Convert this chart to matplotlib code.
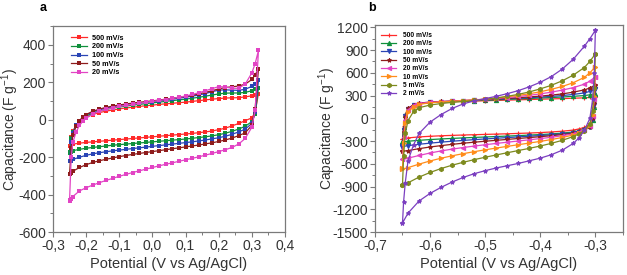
import numpy as np
import matplotlib
matplotlib.use("Agg")
import matplotlib.pyplot as plt
from matplotlib.ticker import MultipleLocator, FuncFormatter

plt.rcParams['font.family'] = ['Liberation Sans', 'DejaVu Sans']
plt.rcParams['mathtext.default'] = 'regular'

# ---- panel a : CV curves (potential grid + capacitance per scan rate)
xa_up = [-0.25, -0.245, -0.24, -0.23, -0.22, -0.21, -0.2, -0.18, -0.16, -0.14, -0.12, -0.1,
         -0.08, -0.06, -0.04, -0.02, 0.0, 0.02, 0.04, 0.06, 0.08, 0.1, 0.12, 0.14, 0.16,
         0.18, 0.2, 0.22, 0.24, 0.26, 0.28, 0.3, 0.31, 0.32]
xa_dn = [0.32, 0.31, 0.3, 0.28, 0.26, 0.24, 0.22, 0.2, 0.18, 0.16, 0.14, 0.12, 0.1, 0.08,
         0.06, 0.04, 0.02, 0.0, -0.02, -0.04, -0.06, -0.08, -0.1, -0.12, -0.14, -0.16,
         -0.18, -0.2, -0.22, -0.24, -0.245, -0.25]
labels_a = ['500 mV/s', '200 mV/s', '100 mV/s', '50 mV/s', '20 mV/s']
colors_a = ['#ff2a2a', '#10903c', '#2a45b5', '#8e1c1c', '#e244c4']

a500_up = [-140, -90, -60, -30, -10, 5, 15, 28, 38, 46, 52, 58, 63, 67, 71, 75, 78, 82, 85,
           88, 91, 94, 98, 102, 106, 110, 113, 116, 117, 118, 122, 128, 133, 140]
a500_dn = [140, 40, 10, -5, -20, -33, -45, -53, -60, -65, -69, -73, -76, -79, -82, -85, -88,
           -91, -94, -97, -100, -103, -106, -109, -112, -115, -118, -121, -125, -130, -135, -140]
a200_up = [-170, -100, -65, -30, -8, 8, 20, 35, 46, 55, 62, 68, 73, 78, 82, 86, 90, 94, 98,
           102, 106, 110, 115, 120, 126, 132, 138, 142, 143, 143, 146, 155, 162, 170]
a200_dn = [170, 30, -10, -35, -50, -62, -72, -80, -86, -91, -95, -99, -103, -106, -109, -112,
           -115, -118, -121, -124, -127, -130, -133, -136, -140, -144, -148, -152, -158, -165,
           -170, -175]
a100_up = [-220, -120, -70, -30, -5, 12, 25, 42, 53, 62, 69, 75, 80, 85, 89, 93, 97, 101, 105,
           110, 115, 120, 126, 132, 140, 150, 158, 160, 158, 157, 163, 178, 192, 210]
a100_dn = [210, 40, -20, -50, -65, -78, -88, -96, -102, -108, -113, -118, -122, -126, -130,
           -134, -138, -142, -146, -150, -154, -158, -162, -166, -171, -176, -182, -190, -200,
           -212, -218, -222]
a50_up = [-290, -150, -80, -35, -5, 15, 28, 45, 57, 66, 73, 79, 84, 89, 93, 97, 101, 105, 110,
          115, 120, 125, 131, 138, 146, 155, 165, 172, 176, 180, 190, 215, 240, 270]
a50_dn = [270, 60, -30, -70, -85, -98, -108, -116, -123, -129, -135, -140, -145, -150, -155,
          -160, -165, -170, -175, -180, -185, -191, -197, -204, -211, -219, -228, -240, -255,
          -275, -283, -290]
a20_up = [-430, -200, -120, -65, -30, -8, 8, 30, 45, 56, 64, 71, 77, 83, 88, 93, 98, 103, 108,
          114, 120, 127, 135, 144, 155, 166, 177, 175, 168, 168, 190, 250, 300, 370]
a20_dn = [370, 50, -40, -100, -130, -148, -160, -170, -180, -189, -198, -206, -214, -222, -230,
          -238, -246, -255, -264, -273, -282, -292, -302, -313, -324, -336, -349, -363, -380,
          -410, -425, -432]
ups_a = [a500_up, a200_up, a100_up, a50_up, a20_up]
dns_a = [a500_dn, a200_dn, a100_dn, a50_dn, a20_dn]

# ---- panel b
xb_up = [-0.65, -0.648, -0.645, -0.64, -0.63, -0.62, -0.6, -0.58, -0.56, -0.54, -0.52, -0.5,
         -0.48, -0.46, -0.44, -0.42, -0.4, -0.38, -0.36, -0.34, -0.32, -0.31, -0.3]
xb_dn = [-0.3, -0.302, -0.305, -0.31, -0.32, -0.33, -0.34, -0.36, -0.38, -0.4, -0.42, -0.44,
         -0.46, -0.48, -0.5, -0.52, -0.54, -0.56, -0.58, -0.6, -0.62, -0.64, -0.65]
labels_b = ['500 mV/s', '200 mV/s', '100 mV/s', '50 mV/s', '20 mV/s', '10 mV/s', '5 mV/s', '2 mV/s']
colors_b = ['#ff2a2a', '#10903c', '#2a45b5', '#8e1c1c', '#e244c4', '#ff8c1a', '#7d8a1e', '#7b3fc0']
markers_b = ['+', '^', 'v', '*', '<', '>', 'h', '*']

b500_up = [-270, -100, 50, 130, 175, 195, 210, 215, 220, 224, 228, 232, 236, 240, 244, 248, 252,
           256, 260, 265, 270, 275, 280]
b500_dn = [280, 150, 0, -80, -120, -140, -155, -170, -180, -188, -194, -199, -204, -208, -212,
           -216, -220, -225, -230, -237, -245, -258, -270]
b200_up = [-310, -120, 40, 125, 172, 192, 208, 215, 221, 227, 232, 238, 244, 250, 256, 262, 268,
           274, 281, 290, 300, 310, 320]
b200_dn = [320, 150, -20, -100, -145, -165, -180, -195, -206, -214, -221, -228, -234, -240, -246,
           -252, -258, -265, -272, -280, -290, -302, -312]
b100_up = [-370, -150, 30, 120, 170, 192, 210, 218, 225, 231, 237, 243, 250, 257, 264, 272, 280,
           289, 300, 315, 335, 355, 380]
b100_dn = [380, 180, -10, -110, -155, -175, -190, -205, -217, -227, -236, -245, -254, -263, -272,
           -281, -291, -302, -314, -327, -342, -360, -372]
b50_up = [-430, -180, 20, 130, 180, 200, 215, 222, 228, 234, 240, 247, 255, 263, 272, 282, 293,
          306, 322, 345, 375, 400, 440]
b50_dn = [440, 200, 0, -110, -160, -180, -197, -215, -229, -242, -254, -266, -278, -290, -302,
          -315, -328, -343, -360, -378, -400, -425, -435]
b20_up = [-530, -250, -20, 110, 172, 195, 212, 220, 227, 234, 242, 251, 262, 274, 288, 304, 322,
          345, 372, 405, 450, 490, 550]
b20_dn = [550, 250, 30, -100, -160, -185, -205, -230, -250, -267, -283, -299, -315, -331, -348,
          -366, -385, -406, -430, -457, -490, -525, -540]
b10_up = [-660, -330, -60, 80, 155, 183, 205, 215, 224, 233, 243, 254, 268, 284, 302, 324, 350,
          382, 420, 470, 540, 600, 680]
b10_dn = [680, 300, 50, -90, -165, -195, -220, -252, -280, -304, -326, -348, -370, -392, -415,
          -440, -466, -494, -526, -562, -604, -650, -670]
b5_up = [-880, -500, -200, -30, 90, 140, 175, 195, 210, 222, 235, 250, 268, 290, 316, 348, 388,
         435, 495, 570, 670, 750, 850]
b5_dn = [850, 400, 100, -70, -165, -205, -240, -290, -330, -365, -396, -425, -454, -483, -513,
         -545, -580, -618, -662, -714, -775, -850, -885]
b2_up = [-1380, -1100, -850, -560, -350, -200, -50, 50, 130, 190, 230, 260, 290, 325, 365, 415,
         475, 550, 650, 780, 950, 1050, 1160]
b2_dn = [1160, 600, 250, 0, -160, -260, -330, -420, -480, -525, -560, -595, -625, -655, -690,
         -730, -780, -840, -910, -990, -1090, -1250, -1380]
ups_b = [b500_up, b200_up, b100_up, b50_up, b20_up, b10_up, b5_up, b2_up]
dns_b = [b500_dn, b200_dn, b100_dn, b50_dn, b20_dn, b10_dn, b5_dn, b2_dn]


def comma(v, pos):
    return ('%.1f' % v).replace('.', ',').replace('-0,0', '0,0')


def style_axes(ax, ylab_x):
    for s in ax.spines.values():
        s.set_color('#7a7a7a')
        s.set_linewidth(0.9)
    ax.tick_params(which='major', direction='out', length=3.5, width=0.8,
                   colors='#7a7a7a', labelcolor='#333333', labelsize=10, pad=1.5)
    ax.tick_params(which='minor', direction='out', length=2, width=0.7, colors='#7a7a7a')
    ax.tick_params(top=False, right=False, which='both')
    ax.xaxis.set_major_formatter(FuncFormatter(comma))
    ax.yaxis.set_major_formatter(FuncFormatter(lambda v, p: '%d' % v))
    ax.set_xlabel('Potential (V vs Ag/AgCl)', fontsize=10.5, color='#333333', labelpad=3)
    ax.set_ylabel('Capacitance (F g$^{-1}$)', fontsize=10, color='#333333')
    ax.yaxis.set_label_coords(ylab_x, 0.5)


fig = plt.figure(figsize=(6.27, 2.75), dpi=100)

# panel a
ax1 = fig.add_axes([0.0845, 0.156, 0.370, 0.749])
for lab, col, up, dn in zip(labels_a, colors_a, ups_a, dns_a):
    ax1.plot(xa_up + xa_dn, up + dn, color=col, lw=0.9, marker='s', ms=2.2,
             mew=0, label=lab)
ax1.set_xlim(-0.3, 0.4)
ax1.set_ylim(-600, 500)
ax1.xaxis.set_major_locator(MultipleLocator(0.1))
ax1.xaxis.set_minor_locator(MultipleLocator(0.05))
ax1.yaxis.set_major_locator(MultipleLocator(200))
ax1.yaxis.set_minor_locator(MultipleLocator(100))
style_axes(ax1, -0.14)
ax1.legend(loc='upper left', bbox_to_anchor=(0.05, 0.99), frameon=False,
           prop={'size': 5.2, 'weight': 'bold'}, handlelength=2.2, labelspacing=0.22,
           handletextpad=0.7, markerscale=1.0)
fig.text(40 / 627, 1 - 8 / 275, 'a', fontsize=9, fontweight='bold', va='center', ha='left')

# panel b
ax2 = fig.add_axes([0.598, 0.156, 0.3955, 0.753])
for lab, col, mk, up, dn in zip(labels_b, colors_b, markers_b, ups_b, dns_b):
    ax2.plot(xb_up + xb_dn, up + dn, color=col, lw=0.9, marker=mk, ms=3, mew=0.8,
             label=lab)
ax2.set_xlim(-0.7, -0.25)
ax2.set_ylim(-1500, 1230)
ax2.xaxis.set_major_locator(MultipleLocator(0.1))
ax2.xaxis.set_minor_locator(MultipleLocator(0.05))
ax2.yaxis.set_major_locator(MultipleLocator(300))
ax2.yaxis.set_minor_locator(MultipleLocator(150))
style_axes(ax2, -0.15)
ax2.legend(loc='upper left', bbox_to_anchor=(0.0, 0.995), frameon=False,
           prop={'size': 4.8, 'weight': 'bold'}, handlelength=2.3, labelspacing=0.2,
           handletextpad=1.0)
fig.text(368 / 627, 1 - 8 / 275, 'b', fontsize=9, fontweight='bold', va='center', ha='left')

fig.savefig('out.png', dpi=100)
